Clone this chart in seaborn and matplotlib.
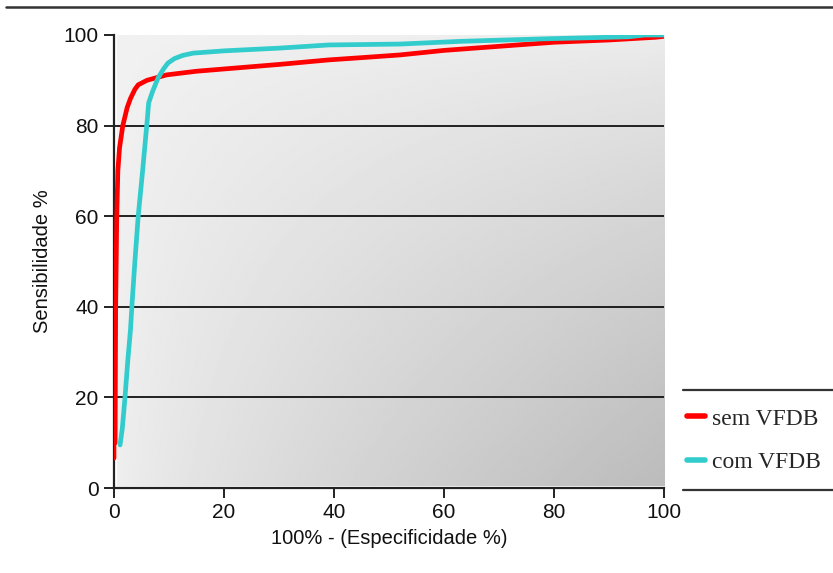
import numpy as np
import pandas as pd
import matplotlib
matplotlib.use("Agg")
import matplotlib.pyplot as plt
import seaborn as sns
from matplotlib.lines import Line2D

# Data (ROC curves)
sem_x = [0, 0, 0.2, 0.3, 0.5, 0.7, 1.0, 1.6, 2.4, 3.0, 3.8, 4.4, 6.0, 9.6, 15, 20, 30, 39, 45, 52, 60, 70, 80, 90, 98.5, 100]
sem_y = [6.6, 10, 10, 40, 60, 70, 75, 80, 84, 86, 88, 89, 90, 91.2, 92, 92.5, 93.5, 94.5, 95, 95.6, 96.6, 97.5, 98.4, 98.9, 99.5, 99.7]
com_x = [1.1, 1.5, 2.0, 2.5, 3.0, 3.3, 3.8, 4.4, 5.2, 5.8, 6.1, 6.3, 7, 8, 9, 9.8, 11, 12.5, 14.4, 20, 30, 39, 52, 63, 79.6, 93.5, 96.5, 100]
com_y = [9.5, 13, 20, 28, 35, 41, 50, 60, 70, 78, 82, 85, 87.5, 90.5, 92.5, 93.8, 94.8, 95.5, 96, 96.5, 97.1, 97.8, 98.0, 98.6, 99.2, 99.6, 100, 100]
series_names = ["sem VFDB", "com VFDB"]
series_colors = ["#ff0000", "#33cccc"]
x_ticks = [0, 20, 40, 60, 80, 100]
y_ticks = [0, 20, 40, 60, 80, 100]

df = pd.concat([
    pd.DataFrame({"x": sem_x, "y": sem_y, "serie": series_names[0]}),
    pd.DataFrame({"x": com_x, "y": com_y, "serie": series_names[1]}),
], ignore_index=True)

sns.set_style("white")
plt.rcParams["font.family"] = ["Liberation Sans", "DejaVu Sans"]

W, H = 833, 573
fig = plt.figure(figsize=(W / 100, H / 100), dpi=100)
ax = fig.add_axes([114 / W, 1 - 488 / H, (664 - 114) / W, (488 - 35) / H])

# gradient background
nx, ny = 300, 200
gx = np.linspace(0, 1, nx)[None, :]
gy = np.linspace(1, 0, ny)[:, None]  # 1 at top row
dark = (gx * (1 - gy)) ** 0.75 + 0.08 * gx + 0.05 * (1 - gy)
img = 0.945 - 0.21 * dark / dark.max()
ax.imshow(img, extent=(0.5, 100, 0.4, 100), aspect="auto", cmap="gray", vmin=0, vmax=1,
          zorder=0, interpolation="bilinear", origin="upper")

for v in [20, 40, 60, 80]:
    ax.axhline(v, color="#111111", lw=1.3, zorder=1)

sns.lineplot(data=df, x="x", y="y", hue="serie", estimator=None, sort=False,
             palette=series_colors, hue_order=series_names, linewidth=3.4, ax=ax, legend=False, zorder=3)

ax.set_xlim(0, 100)
ax.set_ylim(0, 100)
ax.set_xticks(x_ticks)
ax.set_yticks(y_ticks)
ax.set_xticklabels([str(t) for t in x_ticks])
ax.set_yticklabels([str(t) for t in y_ticks])
for s in ["top", "right"]:
    ax.spines[s].set_visible(False)
for s in ["left", "bottom"]:
    ax.spines[s].set_color("#222222")
    ax.spines[s].set_linewidth(1.6)
    ax.spines[s].set_zorder(2)
ax.tick_params(axis="both", direction="out", length=7, width=1.4, color="#222222",
               labelsize=15, labelcolor="#111111", left=True, bottom=True, pad=4)
ax.set_xlabel("100% - (Especificidade %)", fontsize=14.5, color="#111111", labelpad=5)
ax.set_ylabel("Sensibilidade %", fontsize=14.5, color="#111111", labelpad=8)

# top rule
fig.add_artist(Line2D([6 / W, 1], [1 - 7 / H, 1 - 7 / H], transform=fig.transFigure, color="#333333", lw=1.8))
# legend rules
fig.add_artist(Line2D([683 / W, 1], [1 - 390 / H, 1 - 390 / H], transform=fig.transFigure, color="#333333", lw=1.6))
fig.add_artist(Line2D([683 / W, 1], [1 - 490 / H, 1 - 490 / H], transform=fig.transFigure, color="#333333", lw=1.6))

handles = [Line2D([], [], color=c, lw=4) for c in series_colors]
leg = fig.legend(handles, series_names, loc="upper left", bbox_to_anchor=(687 / W, 1 - 408 / H),
                 bbox_transform=fig.transFigure, frameon=False, handlelength=0.75, handletextpad=0.3,
                 labelspacing=0.95, borderaxespad=0, borderpad=0,
                 prop={"family": "Liberation Serif", "size": 17})

fig.savefig("out.png", dpi=100, facecolor="white")
